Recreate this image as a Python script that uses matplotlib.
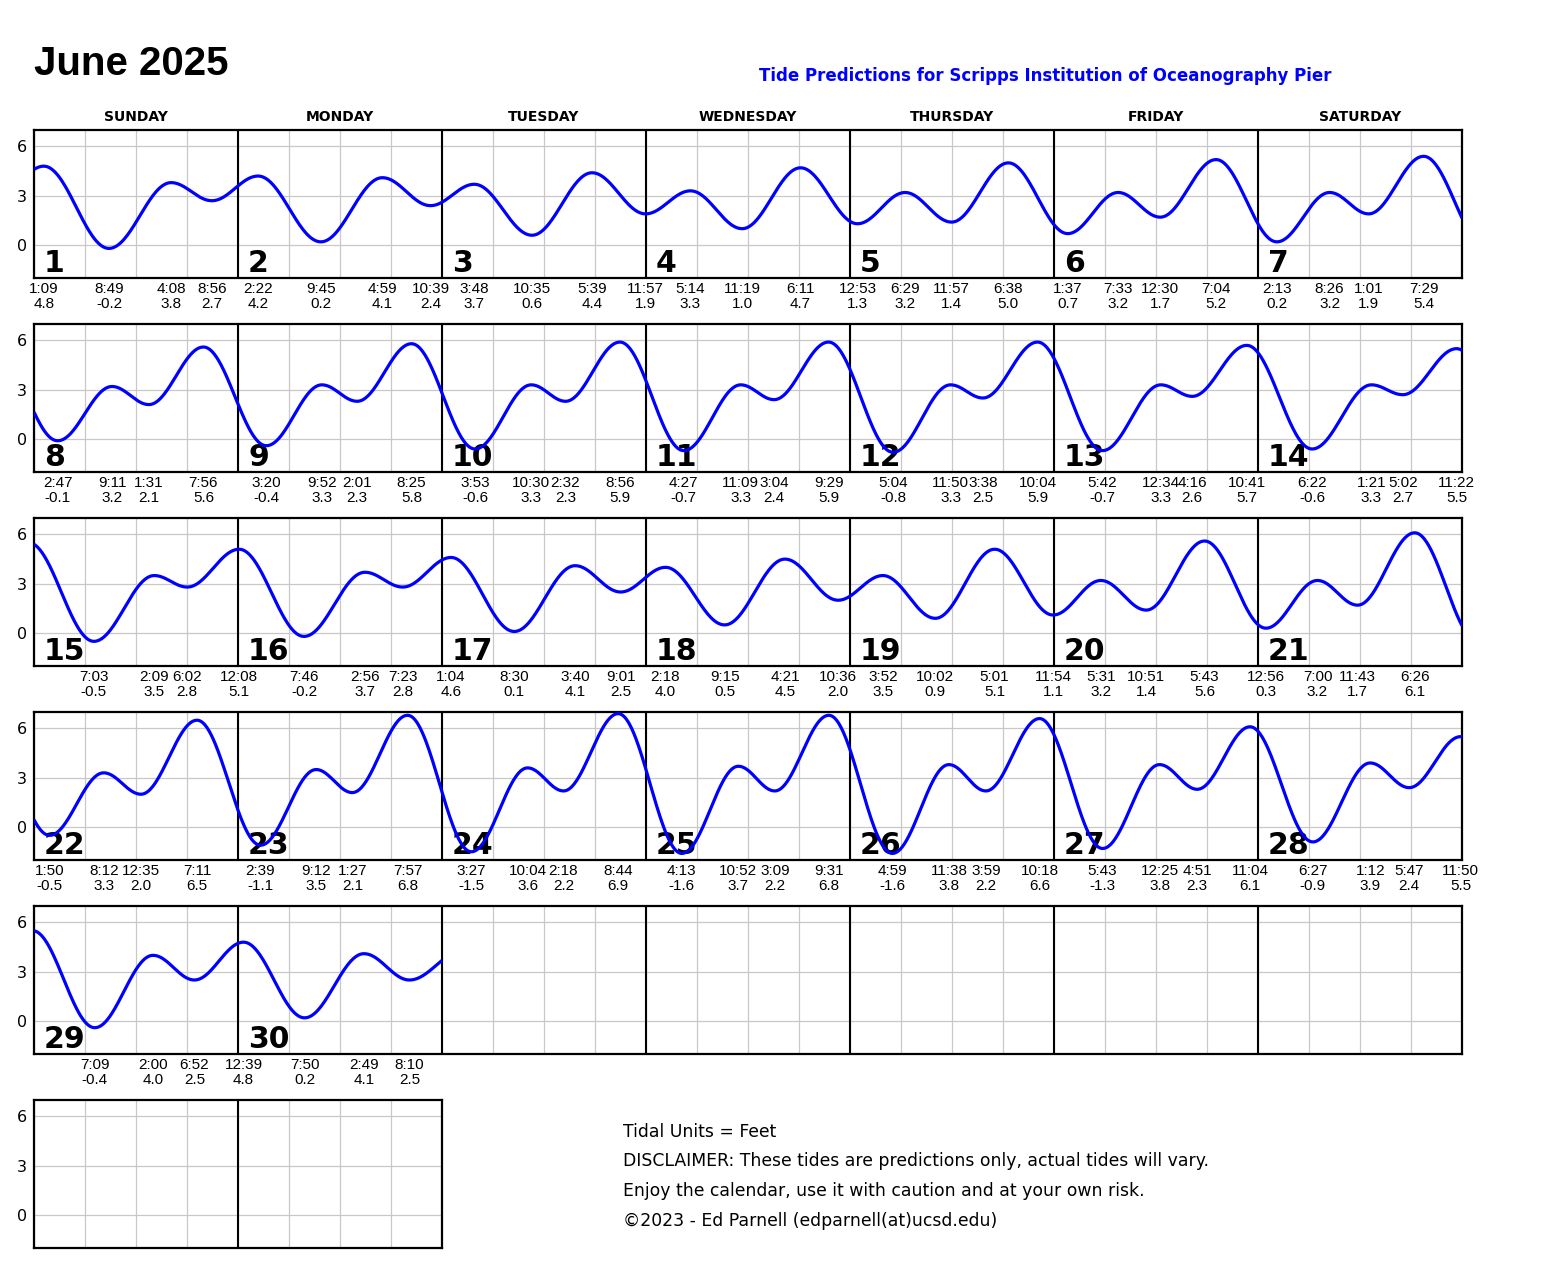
import numpy as np
import matplotlib
matplotlib.use("Agg")
import matplotlib.pyplot as plt
from matplotlib import transforms

# ---------------- data ----------------
month_title = "June 2025"
subtitle = "Tide Predictions for Scripps Institution of Oceanography Pier"
weekdays = ["SUNDAY", "MONDAY", "TUESDAY", "WEDNESDAY", "THURSDAY", "FRIDAY", "SATURDAY"]
n_days = 30
first_weekday = 0  # June 1 2025 is a Sunday

# tide extremes (day of month, 24h time, height in feet)
tide_day = [1, 1, 1, 1,
            2, 2, 2, 2,
            3, 3, 3, 3,
            4, 4, 4,
            5, 5, 5, 5,
            6, 6, 6, 6,
            7, 7, 7, 7,
            8, 8, 8, 8,
            9, 9, 9, 9,
            10, 10, 10, 10,
            11, 11, 11, 11,
            12, 12, 12, 12,
            13, 13, 13, 13,
            14, 14, 14, 14,
            15, 15, 15,
            16, 16, 16, 16,
            17, 17, 17, 17,
            18, 18, 18, 18,
            19, 19, 19, 19,
            20, 20, 20,
            21, 21, 21, 21,
            22, 22, 22, 22,
            23, 23, 23, 23,
            24, 24, 24, 24,
            25, 25, 25, 25,
            26, 26, 26, 26,
            27, 27, 27, 27,
            28, 28, 28, 28,
            29, 29, 29,
            30, 30, 30, 30]
tide_time = ["01:09", "08:49", "16:08", "20:56",
             "02:22", "09:45", "16:59", "22:39",
             "03:48", "10:35", "17:39", "23:57",
             "05:14", "11:19", "18:11",
             "00:53", "06:29", "11:57", "18:38",
             "01:37", "07:33", "12:30", "19:04",
             "02:13", "08:26", "13:01", "19:29",
             "02:47", "09:11", "13:31", "19:56",
             "03:20", "09:52", "14:01", "20:25",
             "03:53", "10:30", "14:32", "20:56",
             "04:27", "11:09", "15:04", "21:29",
             "05:04", "11:50", "15:38", "22:04",
             "05:42", "12:34", "16:16", "22:41",
             "06:22", "13:21", "17:02", "23:22",
             "07:03", "14:09", "18:02",
             "00:08", "07:46", "14:56", "19:23",
             "01:04", "08:30", "15:40", "21:01",
             "02:18", "09:15", "16:21", "22:36",
             "03:52", "10:02", "17:01", "23:54",
             "05:31", "10:51", "17:43",
             "00:56", "07:00", "11:43", "18:26",
             "01:50", "08:12", "12:35", "19:11",
             "02:39", "09:12", "13:27", "19:57",
             "03:27", "10:04", "14:18", "20:44",
             "04:13", "10:52", "15:09", "21:31",
             "04:59", "11:38", "15:59", "22:18",
             "05:43", "12:25", "16:51", "23:04",
             "06:27", "13:12", "17:47", "23:50",
             "07:09", "14:00", "18:52",
             "00:39", "07:50", "14:49", "20:10"]
tide_ft = [4.8, -0.2, 3.8, 2.7,
           4.2, 0.2, 4.1, 2.4,
           3.7, 0.6, 4.4, 1.9,
           3.3, 1.0, 4.7,
           1.3, 3.2, 1.4, 5.0,
           0.7, 3.2, 1.7, 5.2,
           0.2, 3.2, 1.9, 5.4,
           -0.1, 3.2, 2.1, 5.6,
           -0.4, 3.3, 2.3, 5.8,
           -0.6, 3.3, 2.3, 5.9,
           -0.7, 3.3, 2.4, 5.9,
           -0.8, 3.3, 2.5, 5.9,
           -0.7, 3.3, 2.6, 5.7,
           -0.6, 3.3, 2.7, 5.5,
           -0.5, 3.5, 2.8,
           5.1, -0.2, 3.7, 2.8,
           4.6, 0.1, 4.1, 2.5,
           4.0, 0.5, 4.5, 2.0,
           3.5, 0.9, 5.1, 1.1,
           3.2, 1.4, 5.6,
           0.3, 3.2, 1.7, 6.1,
           -0.5, 3.3, 2.0, 6.5,
           -1.1, 3.5, 2.1, 6.8,
           -1.5, 3.6, 2.2, 6.9,
           -1.6, 3.7, 2.2, 6.8,
           -1.6, 3.8, 2.2, 6.6,
           -1.3, 3.8, 2.3, 6.1,
           -0.9, 3.9, 2.4, 5.5,
           -0.4, 4.0, 2.5,
           4.8, 0.2, 4.1, 2.5]

# neighbouring extremes outside the month (May 31 evening, July 1 morning), not labelled
edge_day = [0, 31]
edge_time = ["19:40", "02:30"]
edge_ft = [2.9, 4.3]

y_ticks = [0, 3, 6]
disclaimer = ["Tidal Units = Feet",
              "DISCLAIMER: These tides are predictions only, actual tides will vary.",
              "Enjoy the calendar, use it with caution and at your own risk.",
              "\u00a92023 - Ed Parnell (edparnell(at)ucsd.edu)"]

# ---------------- helpers ----------------
def to_days(day, hhmm):
    h, m = hhmm.split(":")
    return (day - 1) + (int(h) + int(m) / 60.0) / 24.0

def label_time(hhmm):
    h, m = hhmm.split(":")
    h = int(h) % 12
    if h == 0:
        h = 12
    return f"{h}:{m}"

t_ext = np.array([to_days(d, s) for d, s in zip(edge_day[:1] + tide_day + edge_day[1:],
                                               edge_time[:1] + tide_time + edge_time[1:])])
h_ext = np.array(edge_ft[:1] + tide_ft + edge_ft[1:])

def tide_curve(t):
    i = np.clip(np.searchsorted(t_ext, t) - 1, 0, len(t_ext) - 2)
    t0, t1 = t_ext[i], t_ext[i + 1]
    h0, h1 = h_ext[i], h_ext[i + 1]
    f = (t - t0) / (t1 - t0)
    return h0 + (h1 - h0) * (1 - np.cos(np.pi * f)) / 2

# ---------------- layout ----------------
W, H = 1550, 1280
fig = plt.figure(figsize=(W / 100, H / 100), dpi=100)

LEFT, DAYW = 34, 204
ROW_TOP0, ROW_STEP, ROW_H = 130, 194, 148
BLUE = "#0000ff"
GRID = "#c8c8c8"
LABEL_FONT = ["Liberation Sans", "DejaVu Sans"]

def px_axes(x0, y0, w, h):
    return fig.add_axes([x0 / W, 1 - (y0 + h) / H, w / W, h / H])

n_rows = 6
t_dense = np.linspace(0, n_days, n_days * 24 * 12 + 1)
h_dense = tide_curve(t_dense)

for r in range(n_rows):
    ndays_row = 7 if r < 5 else 2
    ax = px_axes(LEFT, ROW_TOP0 + r * ROW_STEP, DAYW * ndays_row, ROW_H)
    ax.set_xlim(0, ndays_row)
    ax.set_ylim(-2, 7)
    ax.set_xticks(np.arange(0, ndays_row + 0.001, 0.25))
    ax.set_xticklabels([])
    ax.set_yticks(y_ticks)
    ax.set_yticklabels([str(v) for v in y_ticks], fontsize=11.5, family="DejaVu Sans")
    ax.tick_params(length=0, pad=5)
    ax.grid(True, color=GRID, lw=0.9, zorder=0)
    ax.set_axisbelow(True)
    for s in ax.spines.values():
        s.set_linewidth(1.6)
    for i in range(1, ndays_row):
        ax.axvline(i, color="black", lw=1.5, zorder=1)

    # curve
    start = r * 7
    m = (t_dense >= start) & (t_dense <= min(start + 7, n_days))
    if m.any() and r < 5:
        ax.plot(t_dense[m] - start, h_dense[m], color=BLUE, lw=2.3, zorder=4,
                solid_capstyle="butt")

    # date numbers
    for c in range(ndays_row):
        day = start + c + 1 - first_weekday
        if 1 <= day <= n_days and r < 5:
            tr = transforms.offset_copy(ax.transData, fig=fig, x=10, y=0, units="dots")
            tr = transforms.blended_transform_factory(tr, transforms.offset_copy(
                ax.transAxes, fig=fig, x=0, y=6, units="dots"))
            ax.text(c, 0, str(day), transform=tr, fontsize=21.5, fontweight="bold",
                    family="DejaVu Sans", ha="left", va="baseline", zorder=3)

    # tide labels under the row
    if r < 5:
        base = transforms.blended_transform_factory(ax.transData, ax.transAxes)
        tr1 = transforms.offset_copy(base, fig=fig, y=-11, units="dots")
        tr2 = transforms.offset_copy(base, fig=fig, y=-26, units="dots")
        for d, s, v in zip(tide_day, tide_time, tide_ft):
            if start < d <= start + 7:
                x = to_days(d, s) - start
                ax.text(x, 0, label_time(s), transform=tr1, ha="center", va="center",
                        fontsize=11, family=LABEL_FONT, clip_on=False)
                ax.text(x, 0, f"{v:.1f}", transform=tr2, ha="center", va="center",
                        fontsize=11, family=LABEL_FONT, clip_on=False)

# weekday headers
for c, name in enumerate(weekdays):
    fig.text((LEFT + DAYW * c + DAYW / 2) / W, 1 - 117 / H, name, ha="center", va="center",
             fontsize=10, fontweight="bold", family="DejaVu Sans")

# title & subtitle
fig.text(LEFT / W, 1 - 75 / H, month_title, ha="left", va="baseline", fontsize=29,
         fontweight="bold", family=["Liberation Sans", "DejaVu Sans"])
fig.text(1045 / W, 1 - 81 / H, subtitle, ha="center", va="baseline", fontsize=12,
         fontweight="bold", color=BLUE, family="DejaVu Sans")

# disclaimer
for i, line in enumerate(disclaimer):
    fig.text(623 / W, 1 - (1132 + 29.5 * i) / H, line, ha="left", va="center",
             fontsize=12.45, family="DejaVu Sans")

fig.savefig("out.png", dpi=100)
